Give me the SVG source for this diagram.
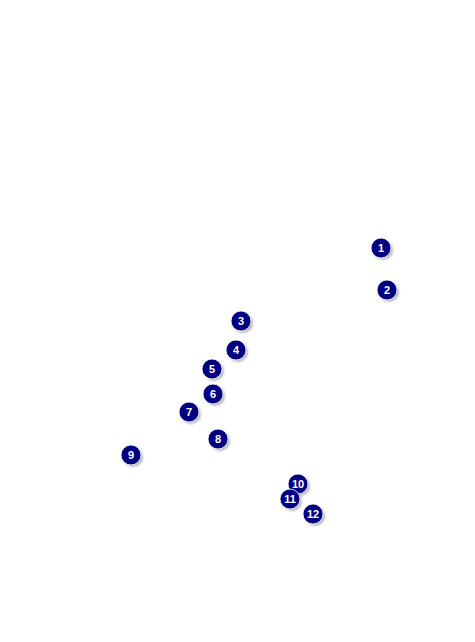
<svg xmlns="http://www.w3.org/2000/svg" width="475" height="642" viewBox="0 0 475 642">
<defs>
<style>
.sh{fill:#9a9a9a;opacity:0.7}
.c{fill:#000080;stroke:#ffffff;stroke-width:0.8}
.t{font-family:"Liberation Sans",Arial,sans-serif;font-weight:bold;font-size:11px;fill:#ffffff;text-anchor:middle}
</style>
<filter id="b" x="-50%" y="-50%" width="200%" height="200%"><feGaussianBlur stdDeviation="1"/></filter>
</defs>
<rect width="475" height="642" fill="#ffffff"/>
<g id="connectors"></g>
<g id="n1"><circle class="sh" cx="383" cy="250" r="10" filter="url(#b)"/><circle class="c" cx="381" cy="248" r="10"/><text class="t" x="381" y="252">1</text></g>
<g id="n2"><circle class="sh" cx="389" cy="292" r="10" filter="url(#b)"/><circle class="c" cx="387" cy="290" r="10"/><text class="t" x="387" y="294">2</text></g>
<g id="n3"><circle class="sh" cx="243" cy="323" r="10" filter="url(#b)"/><circle class="c" cx="241" cy="321" r="10"/><text class="t" x="241" y="325">3</text></g>
<g id="n4"><circle class="sh" cx="238" cy="352" r="10" filter="url(#b)"/><circle class="c" cx="236" cy="350" r="10"/><text class="t" x="236" y="354">4</text></g>
<g id="n5"><circle class="sh" cx="214" cy="371" r="10" filter="url(#b)"/><circle class="c" cx="212" cy="369" r="10"/><text class="t" x="212" y="373">5</text></g>
<g id="n6"><circle class="sh" cx="215" cy="396" r="10" filter="url(#b)"/><circle class="c" cx="213" cy="394" r="10"/><text class="t" x="213" y="398">6</text></g>
<g id="n7"><circle class="sh" cx="191" cy="414" r="10" filter="url(#b)"/><circle class="c" cx="189" cy="412" r="10"/><text class="t" x="189" y="416">7</text></g>
<g id="n8"><circle class="sh" cx="220" cy="441" r="10" filter="url(#b)"/><circle class="c" cx="218" cy="439" r="10"/><text class="t" x="218" y="443">8</text></g>
<g id="n9"><circle class="sh" cx="133" cy="457" r="10" filter="url(#b)"/><circle class="c" cx="131" cy="455" r="10"/><text class="t" x="131" y="459">9</text></g>
<g id="n10"><circle class="sh" cx="300" cy="486" r="10" filter="url(#b)"/><circle class="c" cx="298" cy="484" r="10"/><text class="t" x="298" y="488">10</text></g>
<g id="n11"><circle class="sh" cx="292" cy="501" r="10" filter="url(#b)"/><circle class="c" cx="290" cy="499" r="10"/><text class="t" x="290" y="503">11</text></g>
<g id="n12"><circle class="sh" cx="315" cy="516" r="10" filter="url(#b)"/><circle class="c" cx="313" cy="514" r="10"/><text class="t" x="313" y="518">12</text></g>
</svg>
